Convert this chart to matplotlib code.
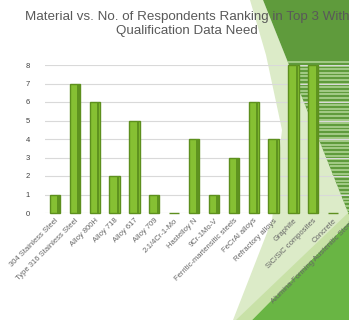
import numpy as np
import matplotlib.pyplot as plt
from matplotlib.patches import Polygon

plt.rcParams['font.family'] = ['Liberation Sans', 'DejaVu Sans']

materials = [
    "304 Stainless Steel", "Type 316 Stainless Steel", "Alloy 800H", "Alloy 718",
    "Alloy 617", "Alloy 709", "2-1/4Cr-1-Mo", "Hastelloy N", "9Cr-1Mo-V",
    "Ferritic-martensitic steels", "FeCrAl alloys", "Refractory alloys",
    "Graphite", "SiC/SiC composites", "Concrete", "Alumina-Forming Austenitic Steels",
]
respondents = [1, 7, 6, 2, 5, 1, 0, 4, 1, 3, 6, 4, 8, 8, 0, 0]
y_ticks = [0, 1, 2, 3, 4, 5, 6, 7, 8]

W, H = 349, 320
fig = plt.figure(figsize=(W / 100, H / 100), dpi=100)
fig.patch.set_facecolor('white')

# slide decoration behind the chart (pixel coordinates of the slide)
bg = fig.add_axes([0, 0, 1, 1], zorder=0)
bg.set_xlim(0, W)
bg.set_ylim(H, 0)
bg.axis('off')
bg.add_patch(Polygon([(233, 320), (272, 220), (282, 130), (266, 55), (250, 0),
                      (263, 0), (349, 215), (349, 320)],
                     closed=True, fc='#dcebc8', ec='none'))
bg.add_patch(Polygon([(263, 0), (349, 0), (349, 215)], closed=True,
                     fc='#5f9b3c', ec='none'))
for yy in np.arange(62, 214, 3.6):
    bg.plot([263 + 0.4 * yy, 349], [yy, yy], color='#a9cf8c', lw=1.3,
            solid_capstyle='butt')
bg.add_patch(Polygon([(252, 320), (349, 222), (349, 320)], closed=True,
                     fc='#69b544', ec='none'))
bg.add_patch(Polygon([(236, 320), (252, 320), (349, 222), (349, 212)], closed=True,
                     fc='#c4df9f', ec='none', alpha=0.8))

ax = fig.add_axes([45 / W, 1 - 213 / H, 318 / W, 148 / H], zorder=1)
ax.set_facecolor('none')

x = np.arange(len(materials))
bars = ax.bar(x, respondents, width=0.52, color='#86c033', edgecolor='#5d8f1e',
              linewidth=1.0, zorder=3)
for b in bars:
    b.set_clip_on(False)
# darker right face for the bevelled look
ax.bar(x + 0.18, respondents, width=0.12, color='#5f931f', linewidth=0, zorder=4)

ax.set_xlim(-0.5, len(materials) - 0.5)
ax.set_ylim(0, 8)
ax.set_yticks(y_ticks)
ax.yaxis.grid(True, color='#d9d9d9', lw=0.8, zorder=0)
ax.set_axisbelow(True)
for s in ax.spines.values():
    s.set_visible(False)
ax.tick_params(axis='y', length=0, pad=11, labelsize=5.5, labelcolor='#404040')
ax.tick_params(axis='x', length=0, pad=3, labelsize=5.5, labelcolor='#666666')
ax.set_xticks(x)
ax.set_xticklabels(materials, rotation=45, ha='right', rotation_mode='anchor')

fig.text(187 / W, 1 - 24 / H,
         "Material vs. No. of Respondents Ranking in Top 3 With\nQualification Data Need",
         ha='center', va='center', fontsize=9.6, color='#595959', linespacing=1.2,
         zorder=5)

fig.savefig('out.png', dpi=100)
